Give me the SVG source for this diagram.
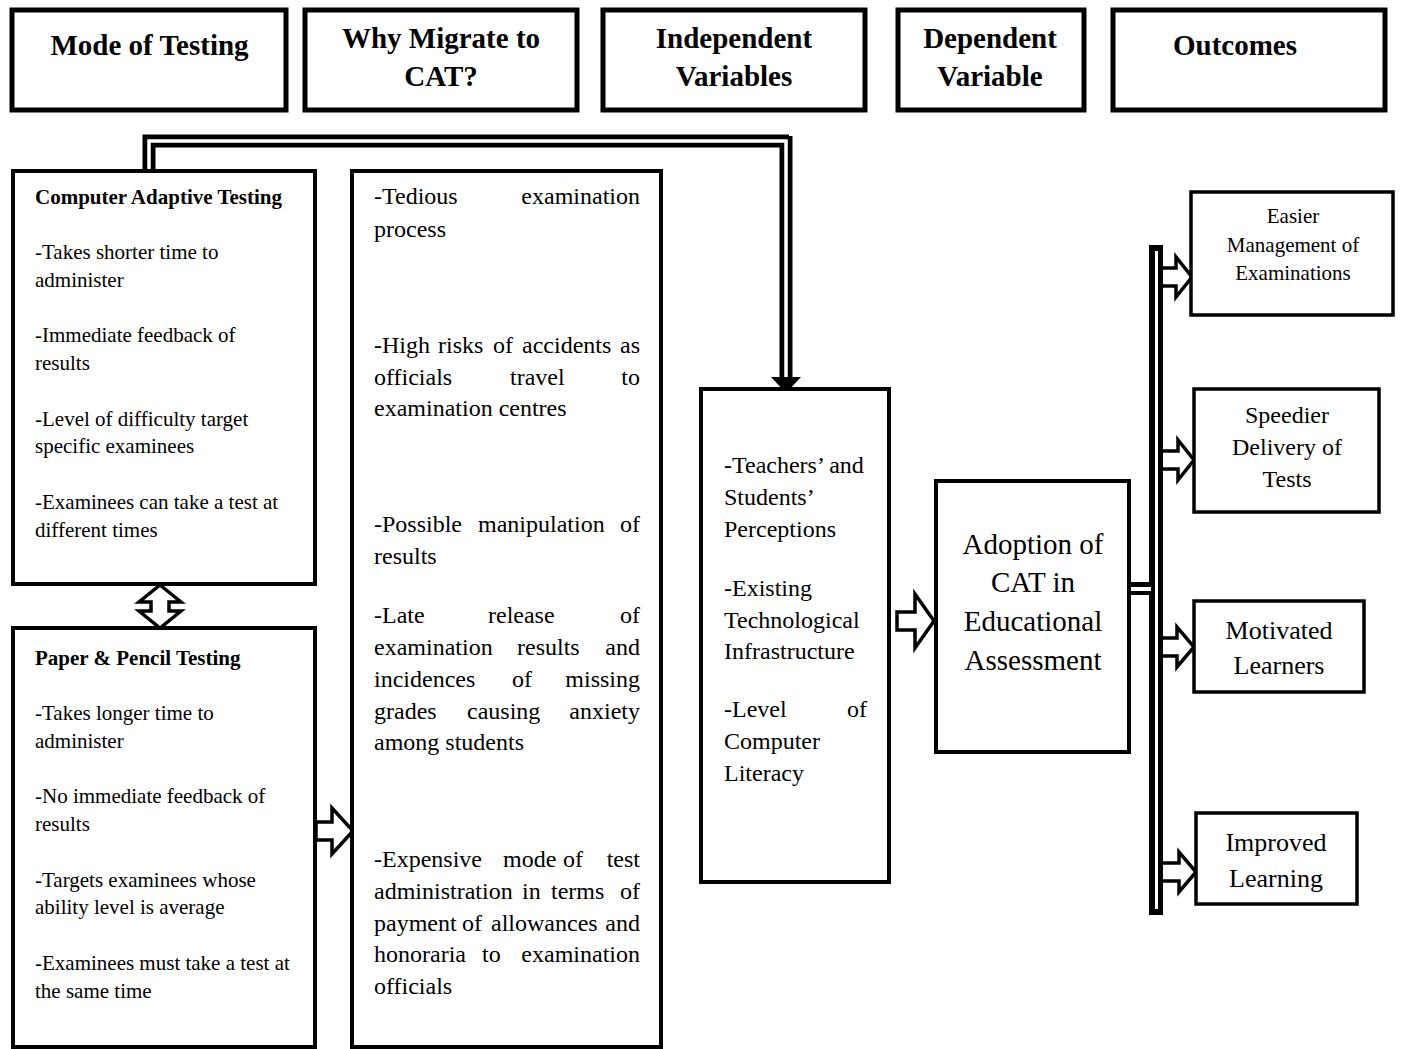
<svg xmlns="http://www.w3.org/2000/svg" width="1402" height="1049" viewBox="0 0 1402 1049">
<style>
text { font-family: "Liberation Serif", "Times New Roman", serif; fill: #000; }
.hb { fill: #fff; stroke: #000; stroke-width: 5; }
.bx { fill: #fff; stroke: #000; stroke-width: 4; }
.ob { fill: #fff; stroke: #000; stroke-width: 3.5; }
.h { font-size: 29px; font-weight: bold; text-anchor: middle; }
.s { font-size: 21px; }
.sb { font-size: 21px; font-weight: bold; }
.m { font-size: 24px; }
.e { text-anchor: end; }
.a { font-size: 29px; text-anchor: middle; }
.o21 { font-size: 21px; text-anchor: middle; }
.o24 { font-size: 24px; text-anchor: middle; }
.o26 { font-size: 26px; text-anchor: middle; }
.blk { fill: #fff; stroke: #000; stroke-width: 3.5; stroke-linejoin: miter; }
.dl { fill: none; stroke: #000; stroke-width: 13; }
.dw { fill: none; stroke: #fff; stroke-width: 3.5; }
</style>
<rect width="1402" height="1049" fill="#fff"/>

<g id="header-mode">
<rect class="hb" x="12" y="10" width="274" height="100"/>
<text class="h" x="149.5" y="55">Mode of Testing</text>
</g>
<g id="header-why">
<rect class="hb" x="305" y="10" width="272" height="100"/>
<text class="h" x="441" y="48">Why Migrate to</text>
<text class="h" x="441" y="86">CAT?</text>
</g>
<g id="header-independent">
<rect class="hb" x="603" y="10" width="262" height="100"/>
<text class="h" x="734" y="48">Independent</text>
<text class="h" x="734" y="86">Variables</text>
</g>
<g id="header-dependent">
<rect class="hb" x="898" y="10" width="186" height="100"/>
<text class="h" x="990" y="48">Dependent</text>
<text class="h" x="990" y="86">Variable</text>
</g>
<g id="header-outcomes">
<rect class="hb" x="1113" y="10" width="272" height="100"/>
<text class="h" x="1235" y="55">Outcomes</text>
</g>

<g id="connectors">
<path class="dl" d="M149,171 V141 H789"/>
<path class="dl" d="M786,136 V380"/>
<path class="dw" d="M149,171 V141 H786 V380"/>
<polygon points="771,377 801,377 786,393" fill="#000"/>
<rect x="1149" y="245" width="14" height="670" fill="#000"/>
<rect x="1155" y="251" width="3" height="658" fill="#fff"/>
<rect x="1129" y="582" width="24" height="13" fill="#000"/>
<rect x="1131" y="587" width="20" height="4" fill="#fff"/>
<polygon class="blk" points="160,585 181,602 169,602 169,611 181,611 160,628 139,611 151,611 151,602 139,602"/>
<polygon class="blk" points="316,822 332,822 332,808 353,831 332,854 332,840 316,840"/>
<polygon class="blk" points="897,612 915,612 915,594 934,621 915,648 915,630 897,630"/>
<polyline class="blk" points="1163,268 1176,268 1176,257 1192,277 1176,297 1176,286 1163,286"/>
<polyline class="blk" points="1163,451 1178,451 1178,440 1194,460 1178,480 1178,469 1163,469"/>
<polyline class="blk" points="1163,638 1177,638 1177,627 1194,647 1177,667 1177,656 1163,656"/>
<polyline class="blk" points="1163,863 1179,863 1179,852 1196,872 1179,892 1179,881 1163,881"/>
</g>

<g id="cat-box">
<rect class="bx" x="13" y="171" width="302" height="413"/>
<text class="sb" x="35" y="204">Computer Adaptive Testing</text>
<text class="s" x="35" y="259">-Takes shorter time to</text>
<text class="s" x="35" y="287">administer</text>
<text class="s" x="35" y="342">-Immediate feedback of</text>
<text class="s" x="35" y="370">results</text>
<text class="s" x="35" y="426">-Level of difficulty target</text>
<text class="s" x="35" y="453">specific examinees</text>
<text class="s" x="35" y="509">-Examinees can take a test at</text>
<text class="s" x="35" y="537">different times</text>
</g>

<g id="ppt-box">
<rect class="bx" x="13" y="628" width="302" height="419"/>
<text class="sb" x="35" y="665">Paper &amp; Pencil Testing</text>
<text class="s" x="35" y="720">-Takes longer time to</text>
<text class="s" x="35" y="748">administer</text>
<text class="s" x="35" y="803">-No immediate feedback of</text>
<text class="s" x="35" y="831">results</text>
<text class="s" x="35" y="887">-Targets examinees whose</text>
<text class="s" x="35" y="914">ability level is average</text>
<text class="s" x="35" y="970">-Examinees must take a test at</text>
<text class="s" x="35" y="998">the same time</text>
</g>

<g id="why-box">
<rect class="bx" x="352" y="171" width="309" height="876"/>
<text class="m" x="374" y="204">-Tedious</text>
<text class="m e" x="640" y="204">examination</text>
<text class="m" x="374" y="237">process</text>
<text class="m" y="353"><tspan x="374">-High</tspan><tspan x="438">risks</tspan><tspan x="493">of</tspan><tspan x="522">accidents</tspan></text>
<text class="m e" x="640" y="353">as</text>
<text class="m" y="385"><tspan x="374">officials</tspan><tspan x="510">travel</tspan></text>
<text class="m e" x="640" y="385">to</text>
<text class="m" x="374" y="416">examination centres</text>
<text class="m" y="532"><tspan x="374">-Possible</tspan><tspan x="478">manipulation</tspan></text>
<text class="m e" x="640" y="532">of</text>
<text class="m" x="374" y="564">results</text>
<text class="m" y="623"><tspan x="374">-Late</tspan><tspan x="488">release</tspan></text>
<text class="m e" x="640" y="623">of</text>
<text class="m" y="655"><tspan x="374">examination</tspan><tspan x="517">results</tspan></text>
<text class="m e" x="640" y="655">and</text>
<text class="m" y="687"><tspan x="374">incidences</tspan><tspan x="512">of</tspan></text>
<text class="m e" x="640" y="687">missing</text>
<text class="m" y="719"><tspan x="374">grades</tspan><tspan x="467">causing</tspan></text>
<text class="m e" x="640" y="719">anxiety</text>
<text class="m" x="374" y="750">among students</text>
<text class="m" y="867"><tspan x="374">-Expensive</tspan><tspan x="503">mode</tspan><tspan x="563">of</tspan></text>
<text class="m e" x="640" y="867">test</text>
<text class="m" y="899"><tspan x="374">administration</tspan><tspan x="522">in</tspan><tspan x="551">terms</tspan></text>
<text class="m e" x="640" y="899">of</text>
<text class="m" y="931"><tspan x="374">payment</tspan><tspan x="462">of</tspan><tspan x="491">allowances</tspan></text>
<text class="m e" x="640" y="931">and</text>
<text class="m" y="962"><tspan x="374">honoraria</tspan><tspan x="482">to</tspan></text>
<text class="m e" x="640" y="962">examination</text>
<text class="m" x="374" y="994">officials</text>
</g>

<g id="independent-box">
<rect class="bx" x="701" y="389" width="188" height="493"/>
<text class="m" x="724" y="473">-Teachers’ and</text>
<text class="m" x="724" y="505">Students’</text>
<text class="m" x="724" y="537">Perceptions</text>
<text class="m" x="724" y="596">-Existing</text>
<text class="m" x="724" y="628">Technological</text>
<text class="m" x="724" y="659">Infrastructure</text>
<text class="m" x="724" y="717">-Level</text>
<text class="m e" x="867" y="717">of</text>
<text class="m" x="724" y="749">Computer</text>
<text class="m" x="724" y="781">Literacy</text>
</g>

<g id="adoption-box">
<rect class="bx" x="936" y="481" width="193" height="271"/>
<text class="a" x="1033" y="554">Adoption of</text>
<text class="a" x="1033" y="592">CAT in</text>
<text class="a" x="1033" y="631">Educational</text>
<text class="a" x="1033" y="670">Assessment</text>
</g>

<g id="outcome-easier">
<rect class="ob" x="1191" y="192" width="202" height="123"/>
<text class="o21" x="1293" y="223">Easier</text>
<text class="o21" x="1293" y="252">Management of</text>
<text class="o21" x="1293" y="280">Examinations</text>
</g>
<g id="outcome-speedier">
<rect class="ob" x="1194" y="389" width="185" height="123"/>
<text class="o24" x="1287" y="423">Speedier</text>
<text class="o24" x="1287" y="455">Delivery of</text>
<text class="o24" x="1287" y="487">Tests</text>
</g>
<g id="outcome-motivated">
<rect class="ob" x="1194" y="601" width="170" height="91"/>
<text class="o26" x="1279" y="639">Motivated</text>
<text class="o26" x="1279" y="674">Learners</text>
</g>
<g id="outcome-improved">
<rect class="ob" x="1196" y="813" width="161" height="91"/>
<text class="o26" x="1276" y="851">Improved</text>
<text class="o26" x="1276" y="887">Learning</text>
</g>
</svg>
